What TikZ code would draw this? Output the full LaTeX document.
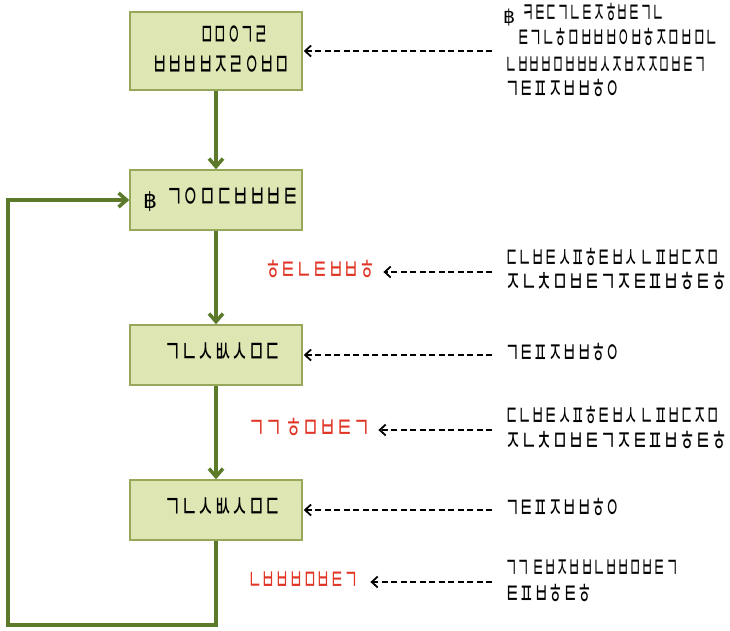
\documentclass[tikz,border=0pt]{standalone}
\usepackage{fontspec}
\usepackage{graphicx}
\usetikzlibrary{arrows.meta}
\newfontfamily\kr{Noto Sans CJK KR}
\newfontfamily\djfont{DejaVu Sans}
\newlength\fwtmp
\newcommand\fitw[2]{\settowidth\fwtmp{#2}\pgfmathsetmacro\fwratio{#1/\fwtmp}\scalebox{\fwratio}[1]{#2}}
\definecolor{boxfill}{HTML}{DEE7B3}
\definecolor{boxline}{HTML}{98A85A}
\definecolor{flowc}{HTML}{5C7A29}
\definecolor{redc}{HTML}{E03424}
\tikzset{
  stepbox/.style={draw=boxline, line width=1.5pt, fill=boxfill, minimum width=172pt, inner sep=0pt},
  txt/.style={font=\kr\fontsize{30}{32}\selectfont, inner sep=0pt, anchor=west, text height=16pt, text depth=-2pt},
  btxt/.style={font=\kr\fontsize{33}{35}\selectfont, inner sep=0pt, text height=17pt, text depth=-2pt},
  redtxt/.style={txt, text=redc},
  flow/.style={draw=flowc, line width=3.5pt, -{Straight Barb[length=8pt,width=14pt]}},
  note/.style={draw=black, line width=1.8pt, dash pattern=on 6pt off 3.5pt, -{Straight Barb[length=6pt,width=11pt]}}
}
\begin{document}
\begin{tikzpicture}[x=1pt,y=-1pt]
\useasboundingbox (0,0) rectangle (730,630);
% boxes
\node[stepbox, minimum height=78pt] (b1) at (216,51) {};
\node[stepbox, minimum height=60pt] (b2) at (216,200) {};
\node[stepbox, minimum height=60pt] (b3) at (216,355) {};
\node[stepbox, minimum height=60pt] (b4) at (216,510) {};
% box texts
\node[btxt] (b1ta) at (234,38) {\fitw{68}{ㅁㅁㅇㄱㄹ}};
\node[btxt] (b1tb) at (221,68) {\fitw{138}{ㅂㅂㅂㅂㅈㄹㅇㅂㅁ}};
\node[btxt, anchor=west] (b2t) at (143,200) {{\djfont\fontsize{22}{24}\selectfont ฿}\hspace{9pt}\fitw{133}{ㄱㅇㅁㄷㅂㅂㅂㅌ}};
\node[btxt] (b3t) at (223,355) {\fitw{117}{ㄱㄴㅅㅄㅅㅁㄷ}};
\node[btxt] (b4t) at (223,510) {\fitw{117}{ㄱㄴㅅㅄㅅㅁㄷ}};
% flow arrows
\draw[flow] (b1) -- (b2);
\draw[flow] (b2) -- (b3);
\draw[flow] (b3) -- (b4);
\coordinate (lc) at (8,625);
\draw[flow] (b4.south) |- (lc) |- (b2.west);
% red labels
\node[redtxt] (r1) at (265,272) {\fitw{110}{ㅎㅌㄴㅌㅂㅂㅎ}};
\node[redtxt] (r2) at (248,430) {\fitw{122}{ㄱㄱ ㅎㅁㅂㅌㄱ}};
\node[redtxt] (r3) at (248,582) {\fitw{110}{ㄴㅂㅂㅂㅁㅂㅌㄱ}};
% right texts
\node[txt] (t1a) at (503,15) {{\djfont\fontsize{19}{21}\selectfont ฿}\hspace{7pt}\fitw{142}{ㅋㅌㄷㄱㄴㅌㅈㅎㅂㅌㄱㄴ}};
\node[txt] (t1b) at (517,40) {\fitw{201}{ㅌㄱㄴㅎㅁㅂㅂㅂㅇㅂㅎㅈㅁㅂㅁㄴ}};
\node[txt] (t1c) at (505,67) {\fitw{201}{ㄴㅂㅂㅂㅁㅂㅂㅂㅅㅈㅂㅈㅈㅁㅂㅌㄱ}};
\node[txt] (t1d) at (505,91) {\fitw{115}{ㄱㅌㅍㅈㅂㅂㅎㅇ}};
\node[txt] (t2a) at (505,260) {\fitw{215}{ㄷㄴㅂㅌㅅㅍㅎㅌㅂㅅ ㄴㅍㅂㄷㅈㅁ}};
\node[txt] (t2b) at (505,284) {\fitw{222}{ㅈㄴㅊㅁㅂㅌㄱㅈㅌㅍㅂㅎㅌㅎ}};
\node[txt] (t3) at (505,355) {\fitw{115}{ㄱㅌㅍㅈㅂㅂㅎㅇ}};
\node[txt] (t4a) at (505,418) {\fitw{215}{ㄷㄴㅂㅌㅅㅍㅎㅌㅂㅅ ㄴㅍㅂㄷㅈㅁ}};
\node[txt] (t4b) at (505,443) {\fitw{222}{ㅈㄴㅊㅁㅂㅌㄱㅈㅌㅍㅂㅎㅌㅎ}};
\node[txt] (t5) at (505,510) {\fitw{115}{ㄱㅌㅍㅈㅂㅂㅎㅇ}};
\node[txt] (t6a) at (505,570) {\fitw{173}{ㄱㄱ ㅌㅂㅈㅂㅂㄴㅂㅂㅁㅂㅌㄱ}};
\node[txt] (t6b) at (505,596) {\fitw{87}{ㅌㅍㅂㅎㅌㅎ}};
% dashed arrows
\coordinate (d1) at (492,51);
\coordinate (d2) at (492,272);
\coordinate (d3) at (492,355);
\coordinate (d4) at (492,430);
\coordinate (d5) at (492,510);
\coordinate (d6) at (492,582);
\draw[note] (d1) -- ([xshift=1pt]b1.east);
\draw[note] (d2) -- ([xshift=8pt]r1.east);
\draw[note] (d3) -- ([xshift=1pt]b3.east);
\draw[note] (d4) -- ([xshift=8pt]r2.east);
\draw[note] (d5) -- ([xshift=1pt]b4.east);
\draw[note] (d6) -- ([xshift=12pt]r3.east);
\end{tikzpicture}
\end{document}
